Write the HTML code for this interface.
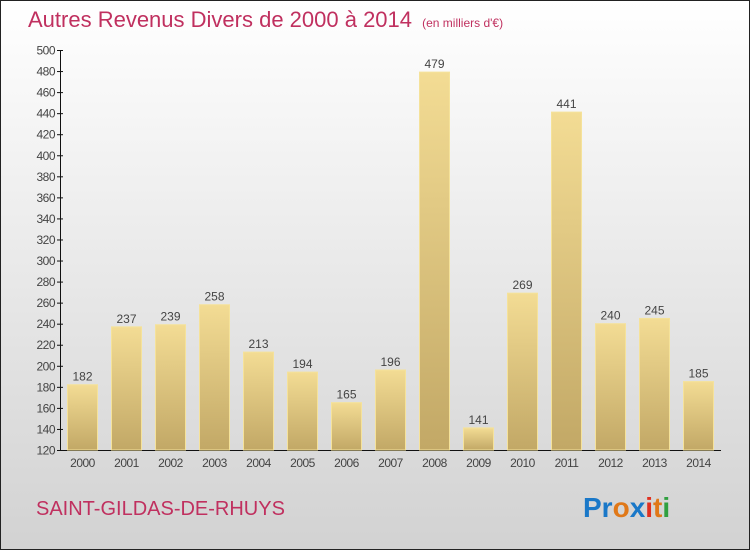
<!DOCTYPE html>
<html><head><meta charset="utf-8"><style>
html,body{margin:0;padding:0}
body{width:750px;height:550px;overflow:hidden;font-family:"Liberation Sans",sans-serif}
#wrap{position:relative;width:748px;height:548px;border:1px solid #222;background:linear-gradient(#ffffff,#d2d2d2)}
</style></head><body>
<div id="wrap">
<svg id="chart" width="748" height="548">
<defs><linearGradient id="bg" x1="0" y1="0" x2="0" y2="1"><stop offset="0" stop-color="#f3dc94"/><stop offset="1" stop-color="#c2a866"/></linearGradient></defs>
<text x="27" y="26" font-size="22" fill="#c0305f">Autres Revenus Divers de 2000 à 2014 <tspan font-size="12" dx="4">(en milliers d'€)</tspan></text>
<text x="35" y="514" font-size="20" fill="#c0305f">SAINT-GILDAS-DE-RHUYS</text>
<text x="582" y="516" font-size="28" font-weight="bold"><tspan fill="#1a78c8">Pr</tspan><tspan fill="#e07818">o</tspan><tspan fill="#1a78c8">x</tspan><tspan fill="#e03020">i</tspan><tspan fill="#e07818">t</tspan><tspan fill="#30a040">i</tspan></text>
</svg>
</div>
<script>
const years=["2000","2001","2002","2003","2004","2005","2006","2007","2008","2009","2010","2011","2012","2013","2014"];
const values=[182,237,239,258,213,194,165,196,479,141,269,441,240,245,185];
const yTicks=[120,140,160,180,200,220,240,260,280,300,320,340,360,380,400,420,440,460,480,500];
const svg=document.getElementById('chart');
const NS='http://www.w3.org/2000/svg';
const y0=449,y1=49,vmin=120,vmax=500;
function yScale(v){return y0-(v-vmin)*(y0-y1)/(vmax-vmin);}
function xScale(i){return 81.5+i*44;}
function mk(t,a){const e=document.createElementNS(NS,t);for(const k in a)e.setAttribute(k,a[k]);svg.appendChild(e);return e;}
let ax=mk('line',{x1:59.5,y1:y1,x2:59.5,y2:y0+0.5,stroke:'#111'});


let bx=mk('line',{x1:59,y1:y0+0.5,x2:720,y2:y0+0.5,stroke:'#111'});


yTicks.forEach(v=>{
const y=yScale(v);
mk('line',{x1:56,y1:y+0.5,x2:62,y2:y+0.5,stroke:'#111'});
const t=mk('text',{x:54,y:y+4.5,'font-size':12,fill:'#444','text-anchor':'end','letter-spacing':'-0.5'});
t.textContent=v;


});
years.forEach((yr,i)=>{
const cx=xScale(i),v=values[i],top=yScale(v);
const r=mk('rect',{x:cx-15,y:top,width:30,height:y0-top,fill:'url(#bg)',stroke:'#f5e29a','stroke-width':1});


const l=mk('text',{x:cx,y:top-4,'font-size':12,fill:'#444','text-anchor':'middle'});
l.textContent=v;


const xl=mk('text',{x:cx,y:466,'font-size':12,fill:'#444','text-anchor':'middle','letter-spacing':'-0.5'});
xl.textContent=yr;


});
</script>
</body></html>
